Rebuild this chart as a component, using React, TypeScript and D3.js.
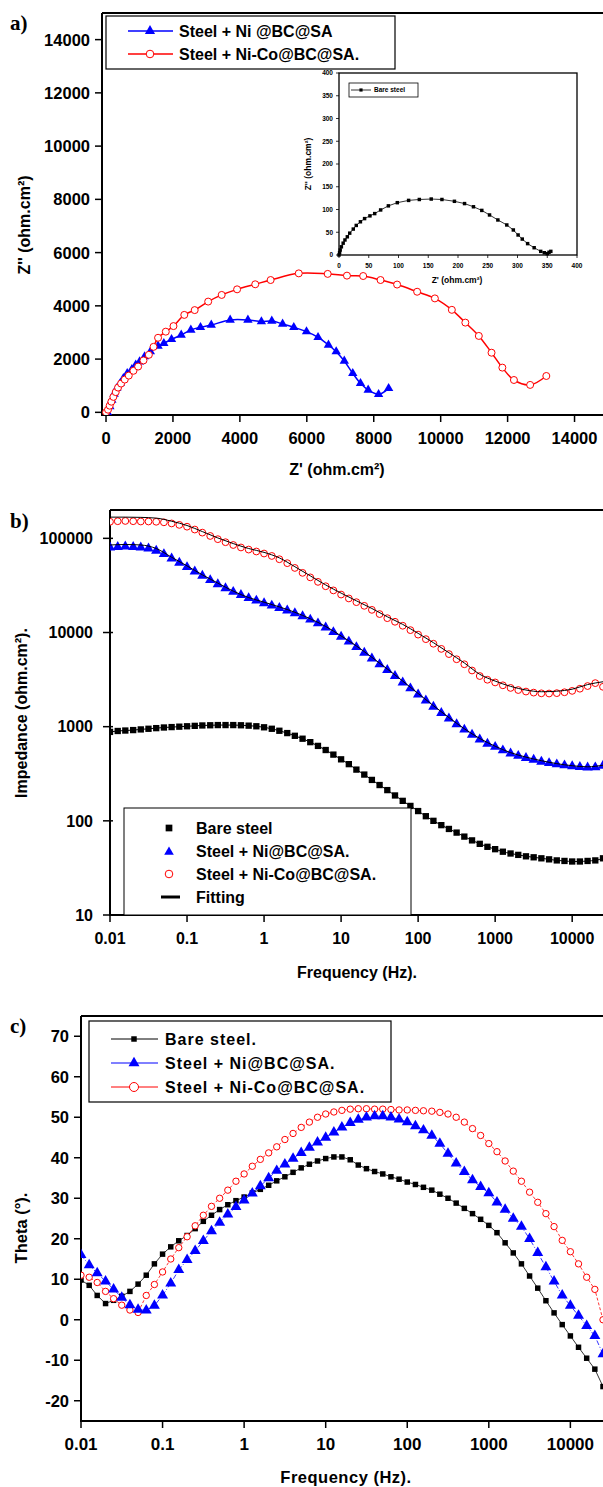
import React from 'react';
import * as d3 from 'd3';

const FONT = "'Liberation Sans', Arial, Helvetica, sans-serif";
const SERIF = "'Liberation Serif', 'Times New Roman', serif";
const BLUE = '#0000ff';
const RED = '#ff0000';
const W = 603;
const H = 1487;

// ---------- Panel a : Nyquist ----------
const nyqTicks = [0, 2000, 4000, 6000, 8000, 10000, 12000, 14000];
const nicoZre = [0, 60, 110, 160, 220, 290, 360, 450, 560, 680, 820, 960, 1120, 1280, 1420, 1555, 1786, 2016, 2339, 2650, 3053, 3456, 3917, 4459, 4919, 5760, 6624, 7200, 7684, 8203, 8698, 9297, 9827, 10334, 10737, 11140, 11520, 11843, 12189, 12673, 13157];
const nicoZim = [0, 100, 250, 400, 580, 760, 930, 1080, 1230, 1380, 1560, 1720, 1950, 2160, 2460, 2800, 3030, 3240, 3660, 3840, 4160, 4410, 4620, 4810, 4970, 5220, 5200, 5135, 5120, 4970, 4800, 4530, 4280, 3850, 3370, 2870, 2240, 1680, 1215, 1030, 1365];
const niZre = [58, 115, 173, 242, 323, 426, 518, 634, 772, 887, 1002, 1152, 1325, 1555, 1728, 1958, 2247, 2535, 2823, 3145, 3710, 4240, 4643, 4954, 5276, 5611, 5991, 6336, 6647, 6878, 7120, 7373, 7604, 7834, 8145, 8445];
const niZim = [-38, 213, 463, 689, 902, 1090, 1277, 1465, 1616, 1778, 1903, 2091, 2279, 2492, 2592, 2742, 2905, 3093, 3193, 3281, 3469, 3469, 3406, 3431, 3319, 3193, 3031, 2818, 2530, 2279, 1929, 1465, 1090, 839, 676, 902];
// inset (bare steel)
const insetTicks = [0, 50, 100, 150, 200, 250, 300, 350, 400];
const bareZre = [0, 1, 2, 4, 7, 10, 14, 18, 24, 29, 36, 43, 52, 60, 70, 83, 98, 117, 135, 155, 173, 194, 211, 226, 240, 253, 267, 282, 293, 301, 308, 317, 328, 339, 345, 350, 353, 356];
const bareZim = [0, 5, 11, 18, 26, 33, 40, 48, 57, 65, 73, 80, 86, 91, 99, 108, 115, 120, 122, 123, 122, 118, 113, 106, 98, 88, 77, 66, 55, 44, 35, 25, 16, 8, 5, 3, 6, 8];

// ---------- Panel b / c : Bode ----------
const freq = [0.01, 0.0126, 0.0158, 0.02, 0.0251, 0.0316, 0.0398, 0.0501, 0.0631, 0.0794,
  0.1, 0.126, 0.158, 0.2, 0.251, 0.316, 0.398, 0.501, 0.631, 0.794,
  1, 1.26, 1.58, 2, 2.51, 3.16, 3.98, 5.01, 6.31, 7.94,
  10, 12.6, 15.8, 20, 25.1, 31.6, 39.8, 50.1, 63.1, 79.4,
  100, 126, 158, 200, 251, 316, 398, 501, 631, 794,
  1000, 1259, 1585, 1995, 2512, 3162, 3981, 5012, 6310, 7943,
  10000, 12589, 15849, 19953, 25119];
const freqTicks = [0.01, 0.1, 1, 10, 100, 1000, 10000];
const freqLabels = ['0.01', '0.1', '1', '10', '100', '1000', '10000'];
const impTicks = [10, 100, 1000, 10000, 100000];

const impBare = [880, 900, 910, 920, 935, 950, 965, 980, 990, 1000,
  1010, 1020, 1030, 1035, 1040, 1040, 1040, 1035, 1025, 1010,
  985, 950, 905, 855, 800, 745, 685, 625, 565, 505,
  450, 400, 350, 310, 272, 240, 212, 186, 163, 144,
  127, 112, 100, 90, 82, 75, 68, 62, 57, 53,
  50, 47, 45, 43.5, 42, 41, 40, 39, 38, 37.5,
  37, 37, 37.5, 38, 40];
const impNi = [80000, 81000, 82000, 81000, 80000, 78000, 74000, 68000, 61000, 55000,
  49500, 44500, 40000, 36000, 32500, 29500, 27000, 25000, 23200, 21800,
  20500, 19300, 18200, 17100, 16000, 14900, 13700, 12500, 11300, 10100,
  9000, 8000, 7000, 6100, 5300, 4600, 4000, 3450, 2950, 2550,
  2200, 1900, 1630, 1400, 1220, 1060, 930, 820, 730, 660,
  610, 560, 520, 490, 465, 445, 425, 410, 398, 388,
  380, 373, 368, 370, 385];
const impNiCo = [150000, 152000, 153000, 152000, 151000, 151000, 150000, 148000, 144000, 139000,
  133000, 124000, 115000, 106000, 98000, 91000, 85000, 80000, 76000, 72500,
  69000, 65000, 60000, 54500, 48500, 43000, 38500, 34500, 31000, 28000,
  25300, 23000, 21000, 19200, 17400, 15700, 14200, 13000, 11800, 10600,
  9500, 8500, 7600, 6700, 5900, 5200, 4600, 3950, 3450, 3150,
  2950, 2750, 2580, 2450, 2360, 2300, 2260, 2250, 2270, 2320,
  2400, 2530, 2700, 2900, 2650];
const fitFreq = [0.01, 0.0158, 0.0251, 0.0398, 0.0631, 0.1, 0.158, 0.251, 0.398, 0.631,
  1, 1.58, 2.51, 3.98, 6.31, 10, 15.8, 25.1, 39.8, 63.1,
  100, 158, 251, 398, 631, 1000, 1585, 2512, 3981, 6310,
  10000, 15849, 25119];
const fitNiCo = [168000, 168000, 167000, 164000, 152000, 137000, 118000, 101000, 88000, 78000,
  71000, 62000, 50000, 40000, 32000, 26200, 21700, 18000, 14700, 12200,
  9800, 7800, 6100, 4750, 3600, 3050, 2680, 2450, 2350, 2380,
  2500, 2800, 3000];
const fitNi = [85000, 86000, 85000, 78000, 63000, 51000, 41000, 33500, 27500, 23500,
  21000, 18700, 16400, 14000, 11600, 9200, 7200, 5450, 4100, 3050,
  2250, 1670, 1250, 950, 750, 620, 530, 475, 435, 405,
  385, 375, 390];

const thetaTicks = [-20, -10, 0, 10, 20, 30, 40, 50, 60, 70];
const thetaBare = [9.8, 8.5, 6.0, 4.0, 4.8, 5.8, 7.0, 8.8, 11.0, 13.8,
  16.2, 18.0, 19.5, 20.8, 22.5, 24.3, 25.8, 27.2, 28.4, 29.4,
  30.3, 31.3, 32.2, 33.2, 34.3, 35.3, 36.4, 37.5, 38.4, 39.2,
  39.8, 40.2, 40.2, 39.5, 38.2, 37.3, 36.6, 36.0, 35.3, 34.7,
  34.0, 33.4, 32.7, 32.0, 31.0, 30.0, 28.8, 27.5, 26.2, 24.8,
  23.3, 21.5, 19.0, 16.5, 13.8, 10.8, 7.8, 4.7, 1.7, -1.2,
  -4.0, -6.8, -9.5, -12.2, -16.5];
const thetaNi = [16.0, 13.5, 11.5, 9.5, 7.5, 5.5, 3.6, 2.5, 2.3, 3.5,
  6.0, 9.0, 12.3, 14.8, 17.0, 19.5, 21.9, 24.0, 26.0, 27.9,
  29.5, 31.2, 33.0, 35.0, 36.8, 38.4, 39.8, 41.2, 42.5, 43.8,
  45.0, 46.3, 47.5, 48.6, 49.4, 50.0, 50.3, 50.3, 50.0, 49.5,
  48.8, 47.8, 46.8, 45.5, 43.5, 41.0, 38.6, 36.5, 34.5, 32.8,
  31.3, 29.0, 27.2, 25.0, 23.0, 20.0, 16.5, 13.0, 9.5, 6.0,
  3.5, 1.0, -1.5, -4.0, -8.5];
const thetaNiCo = [11.0, 10.5, 9.2, 7.0, 5.2, 3.6, 2.4, 1.8, 6.0, 8.7,
  11.8, 15.0, 17.8, 20.5, 23.2, 25.8, 28.0, 30.0, 32.0, 34.2,
  36.0, 37.9, 39.6, 41.2, 42.7, 44.5, 46.0, 47.5, 48.8, 50.0,
  50.8, 51.3, 51.7, 52.0, 52.1, 52.1, 52.0, 52.0, 51.9, 51.8,
  51.8, 51.7, 51.6, 51.5, 51.2, 50.8, 50.0, 48.8, 47.2, 45.5,
  43.5, 41.5, 39.2, 36.7, 34.2, 31.5, 29.0, 26.2, 23.0, 19.6,
  16.8, 13.8, 10.5, 7.5, 0.0];

type MkType = 'square' | 'triangle' | 'circle';

function Mk({ type, x, y, s, color }: { type: MkType; x: number; y: number; s: number; color: string }) {
  if (type === 'circle') {
    return <circle cx={x} cy={y} r={s} fill="#fff" stroke={color} strokeWidth={1} />;
  }
  const d = d3.symbol().type(type === 'square' ? d3.symbolSquare : d3.symbolTriangle).size(s)() as string;
  return <path d={d} transform={`translate(${x},${y})`} fill={color} />;
}

const bold = { fontFamily: FONT, fontWeight: 700 as const };

function PanelA() {
  const x = d3.scaleLinear().domain([-120, 15000]).range([102, 608]);
  const y = d3.scaleLinear().domain([-100, 15000]).range([415, 13]);
  const line = d3.line<[number, number]>().x(d => x(d[0])).y(d => y(d[1])).curve(d3.curveCatmullRom);
  const nico: [number, number][] = nicoZre.map((v, i) => [v, nicoZim[i]]);
  const ni: [number, number][] = niZre.map((v, i) => [v, niZim[i]]);

  const ix = d3.scaleLinear().domain([0, 400]).range([339, 577]);
  const iy = d3.scaleLinear().domain([0, 400]).range([255, 73]);
  const iline = d3.line<[number, number]>().x(d => ix(d[0])).y(d => iy(d[1]));
  const bare: [number, number][] = bareZre.map((v, i) => [v, bareZim[i]]);

  return (
    <g>
      <text x={10} y={30} fontFamily={SERIF} fontWeight={700} fontSize={21}>a)</text>
      <defs>
        <clipPath id="clipA"><rect x={102} y={13} width={W - 102} height={402} /></clipPath>
      </defs>
      <line x1={102} y1={13} x2={W} y2={13} stroke="#000" strokeWidth={2} />
      <line x1={102} y1={13} x2={102} y2={416} stroke="#000" strokeWidth={2} />
      <line x1={101} y1={415} x2={W} y2={415} stroke="#000" strokeWidth={2} />
      {nyqTicks.map(t => (
        <g key={'ay' + t}>
          <line x1={95} x2={102} y1={y(t)} y2={y(t)} stroke="#000" strokeWidth={1.5} />
          <text x={90} y={y(t)} dy="0.36em" textAnchor="end" {...bold} fontSize={16.5}>{t}</text>
        </g>
      ))}
      {nyqTicks.map(t => (
        <g key={'ax' + t}>
          <line x1={x(t)} x2={x(t)} y1={415} y2={422} stroke="#000" strokeWidth={1.5} />
          <text x={x(t)} y={444} textAnchor="middle" {...bold} fontSize={16.5}>{t}</text>
        </g>
      ))}
      <text x={337} y={475} textAnchor="middle" {...bold} fontSize={16}>Z' (ohm.cm²)</text>
      <text transform="translate(30,225) rotate(-90)" textAnchor="middle" {...bold} fontSize={16}>Z'' (ohm.cm²)</text>

      <g clipPath="url(#clipA)">
        <path d={line(nico) as string} fill="none" stroke={RED} strokeWidth={1.5} />
        <path d={line(ni) as string} fill="none" stroke={BLUE} strokeWidth={1.5} />
        {ni.map((d, i) => <Mk key={'n' + i} type="triangle" x={x(d[0])} y={y(d[1])} s={38} color={BLUE} />)}
        {nico.map((d, i) => <Mk key={'c' + i} type="circle" x={x(d[0])} y={y(d[1])} s={3.5} color={RED} />)}
      </g>

      <rect x={106} y={16} width={289} height={53} fill="#fff" stroke="#000" strokeWidth={1.2} />
      <line x1={128} x2={173} y1={31} y2={31} stroke={BLUE} strokeWidth={1.5} />
      <Mk type="triangle" x={150} y={31} s={45} color={BLUE} />
      <text x={179} y={31} dy="0.36em" {...bold} fontSize={16}>Steel + Ni @BC@SA</text>
      <line x1={128} x2={173} y1={54} y2={54} stroke={RED} strokeWidth={1.5} />
      <Mk type="circle" x={150} y={54} s={3.8} color={RED} />
      <text x={179} y={54} dy="0.36em" {...bold} fontSize={16}>Steel + Ni-Co@BC@SA.</text>

      <rect x={339} y={73} width={238} height={182} fill="#fff" stroke="#000" strokeWidth={1.3} />
      {insetTicks.map(t => (
        <g key={'iy' + t}>
          <line x1={336} x2={339} y1={iy(t)} y2={iy(t)} stroke="#000" strokeWidth={0.8} />
          <text x={333} y={iy(t)} dy="0.36em" textAnchor="end" {...bold} fontSize={6.5}>{t}</text>
          <line x1={ix(t)} x2={ix(t)} y1={255} y2={258} stroke="#000" strokeWidth={0.8} />
          <text x={ix(t)} y={268} textAnchor="middle" {...bold} fontSize={6.5}>{t}</text>
        </g>
      ))}
      <text x={457} y={283} textAnchor="middle" {...bold} fontSize={8.5}>Z' (ohm.cm²)</text>
      <text transform="translate(311,164) rotate(-90)" textAnchor="middle" {...bold} fontSize={8.5}>Z'' (ohm.cm²)</text>
      <path d={iline(bare) as string} fill="none" stroke="#000" strokeWidth={0.8} />
      {bare.map((d, i) => <Mk key={'b' + i} type="square" x={ix(d[0])} y={iy(d[1])} s={12} color="#000" />)}
      <rect x={349} y={83} width={69} height={14} fill="#fff" stroke="#000" strokeWidth={0.8} />
      <line x1={351} x2={371} y1={90} y2={90} stroke="#000" strokeWidth={0.8} />
      <Mk type="square" x={361} y={90} s={10} color="#000" />
      <text x={374} y={90} dy="0.36em" {...bold} fontSize={6.5}>Bare steel</text>
    </g>
  );
}

function PanelB() {
  const x = d3.scaleLog().domain([0.01, 25119]).range([110, 603]);
  const y = d3.scaleLog().domain([10, 200000]).range([915, 510]);
  const fitLine = d3.line<number>().x((_, i) => x(fitFreq[i])).y(d => y(d)).curve(d3.curveMonotoneX);
  const dataLine = d3.line<number>().x((_, i) => x(freq[i])).y(d => y(d)).curve(d3.curveMonotoneX);
  return (
    <g>
      <text x={10} y={528} fontFamily={SERIF} fontWeight={700} fontSize={21}>b)</text>
      <defs>
        <clipPath id="clipB"><rect x={110} y={510} width={W - 110} height={405} /></clipPath>
      </defs>
      <line x1={110} y1={510} x2={W} y2={510} stroke="#000" strokeWidth={1.8} />
      <line x1={110} y1={510} x2={110} y2={916} stroke="#000" strokeWidth={2} />
      <line x1={109} y1={915} x2={W} y2={915} stroke="#000" strokeWidth={2} />
      {impTicks.map(t => (
        <g key={'by' + t}>
          <line x1={103} x2={113} y1={y(t)} y2={y(t)} stroke="#000" strokeWidth={1.5} />
          <text x={93} y={y(t)} dy="0.36em" textAnchor="end" {...bold} fontSize={16}>{t}</text>
        </g>
      ))}
      {freqTicks.map((t, i) => (
        <g key={'bx' + t}>
          <line x1={x(t)} x2={x(t)} y1={915} y2={922} stroke="#000" strokeWidth={1.5} />
          <text x={x(t)} y={944} textAnchor="middle" {...bold} fontSize={16}>{freqLabels[i]}</text>
        </g>
      ))}
      <text x={357} y={978} textAnchor="middle" {...bold} fontSize={16}>Frequency (Hz).</text>
      <text transform="translate(27,713) rotate(-90)" textAnchor="middle" {...bold} fontSize={16}>Impedance (ohm.cm²).</text>

      <g clipPath="url(#clipB)">
        <path d={dataLine(impBare) as string} fill="none" stroke="#000" strokeWidth={1} />
        {impBare.map((v, i) => <Mk key={'k' + i} type="square" x={x(freq[i])} y={y(v)} s={40} color="#000" />)}
        {impNi.map((v, i) => <Mk key={'n' + i} type="triangle" x={x(freq[i])} y={y(v)} s={46} color={BLUE} />)}
        {impNiCo.map((v, i) => <Mk key={'c' + i} type="circle" x={x(freq[i])} y={y(v)} s={3.4} color={RED} />)}
        <path d={fitLine(fitNi) as string} fill="none" stroke="#000" strokeWidth={1} />
        <path d={fitLine(fitNiCo) as string} fill="none" stroke="#000" strokeWidth={1} />
      </g>

      <rect x={124} y={808} width={287} height={107} fill="#fff" stroke="#000" strokeWidth={1} />
      <Mk type="square" x={169} y={828} s={45} color="#000" />
      <text x={196} y={828} dy="0.36em" {...bold} fontSize={16}>Bare steel</text>
      <Mk type="triangle" x={169} y={852} s={40} color={BLUE} />
      <text x={196} y={851} dy="0.36em" {...bold} fontSize={16}>Steel + Ni@BC@SA.</text>
      <Mk type="circle" x={169} y={874} s={3.8} color={RED} />
      <text x={196} y={874} dy="0.36em" {...bold} fontSize={16}>Steel + Ni-Co@BC@SA.</text>
      <line x1={161} x2={180} y1={897} y2={897} stroke="#000" strokeWidth={3} />
      <text x={196} y={897} dy="0.36em" {...bold} fontSize={16}>Fitting</text>
    </g>
  );
}

function PanelC() {
  const x = d3.scaleLog().domain([0.01, 25119]).range([81, 603]);
  const y = d3.scaleLinear().domain([-25, 75]).range([1421, 1016]);
  const ln = d3.line<number>().x((_, i) => x(freq[i])).y(d => y(d));
  return (
    <g>
      <text x={10} y={1033} fontFamily={SERIF} fontWeight={700} fontSize={21}>c)</text>
      <defs>
        <clipPath id="clipC"><rect x={81} y={1016} width={W - 81} height={405} /></clipPath>
      </defs>
      <line x1={81} y1={1016} x2={W} y2={1016} stroke="#000" strokeWidth={2} />
      <line x1={81} y1={1016} x2={81} y2={1422} stroke="#000" strokeWidth={2} />
      <line x1={80} y1={1421} x2={W} y2={1421} stroke="#000" strokeWidth={2} />
      {thetaTicks.map(t => (
        <g key={'cy' + t}>
          <line x1={74} x2={81} y1={y(t)} y2={y(t)} stroke="#000" strokeWidth={1.5} />
          <text x={69} y={y(t)} dy="0.36em" textAnchor="end" {...bold} fontSize={16.5}>{t}</text>
        </g>
      ))}
      {freqTicks.map((t, i) => (
        <g key={'cx' + t}>
          <line x1={x(t)} x2={x(t)} y1={1421} y2={1428} stroke="#000" strokeWidth={1.5} />
          <text x={x(t)} y={1450} textAnchor="middle" {...bold} fontSize={17}>{freqLabels[i]}</text>
        </g>
      ))}
      <text x={346} y={1483} textAnchor="middle" {...bold} fontSize={16.5} letterSpacing={0.5}>Frequency (Hz).</text>
      <text transform="translate(27,1228) rotate(-90)" textAnchor="middle" {...bold} fontSize={16.5}>Theta (°).</text>

      <g clipPath="url(#clipC)">
        <path d={ln(thetaBare) as string} fill="none" stroke="#000" strokeWidth={0.8} />
        <path d={ln(thetaNiCo) as string} fill="none" stroke={RED} strokeWidth={0.8} strokeDasharray="3,2" />
        <path d={ln(thetaNi) as string} fill="none" stroke={BLUE} strokeWidth={0.8} strokeDasharray="5,2,1,2" />
        {thetaBare.map((v, i) => <Mk key={'k' + i} type="square" x={x(freq[i])} y={y(v)} s={30} color="#000" />)}
        {thetaNiCo.map((v, i) => <Mk key={'c' + i} type="circle" x={x(freq[i])} y={y(v)} s={3.2} color={RED} />)}
        {thetaNi.map((v, i) => <Mk key={'n' + i} type="triangle" x={x(freq[i])} y={y(v)} s={52} color={BLUE} />)}
      </g>

      <rect x={89} y={1021} width={302} height={81} fill="#fff" stroke="#000" strokeWidth={1.2} />
      <line x1={111} x2={158} y1={1039} y2={1039} stroke="#000" strokeWidth={1} />
      <Mk type="square" x={134} y={1039} s={30} color="#000" />
      <text x={165} y={1039} dy="0.36em" {...bold} fontSize={16} letterSpacing={1}>Bare steel.</text>
      <line x1={111} x2={158} y1={1063} y2={1063} stroke={BLUE} strokeWidth={1} />
      <Mk type="triangle" x={134} y={1063} s={52} color={BLUE} />
      <text x={165} y={1063} dy="0.36em" {...bold} fontSize={16} letterSpacing={1}>Steel + Ni@BC@SA.</text>
      <line x1={111} x2={158} y1={1087} y2={1087} stroke={RED} strokeWidth={1} />
      <Mk type="circle" x={134} y={1087} s={4.5} color={RED} />
      <text x={165} y={1087} dy="0.36em" {...bold} fontSize={16} letterSpacing={1}>Steel + Ni-Co@BC@SA.</text>
    </g>
  );
}

export default function App() {
  return (
    <svg width={W} height={H} viewBox={`0 0 ${W} ${H}`} style={{ position: 'absolute', left: 0, top: 0, background: '#fff' }}>
      <rect x={0} y={0} width={W} height={H} fill="#fff" />
      <PanelA />
      <PanelB />
      <PanelC />
    </svg>
  );
}
